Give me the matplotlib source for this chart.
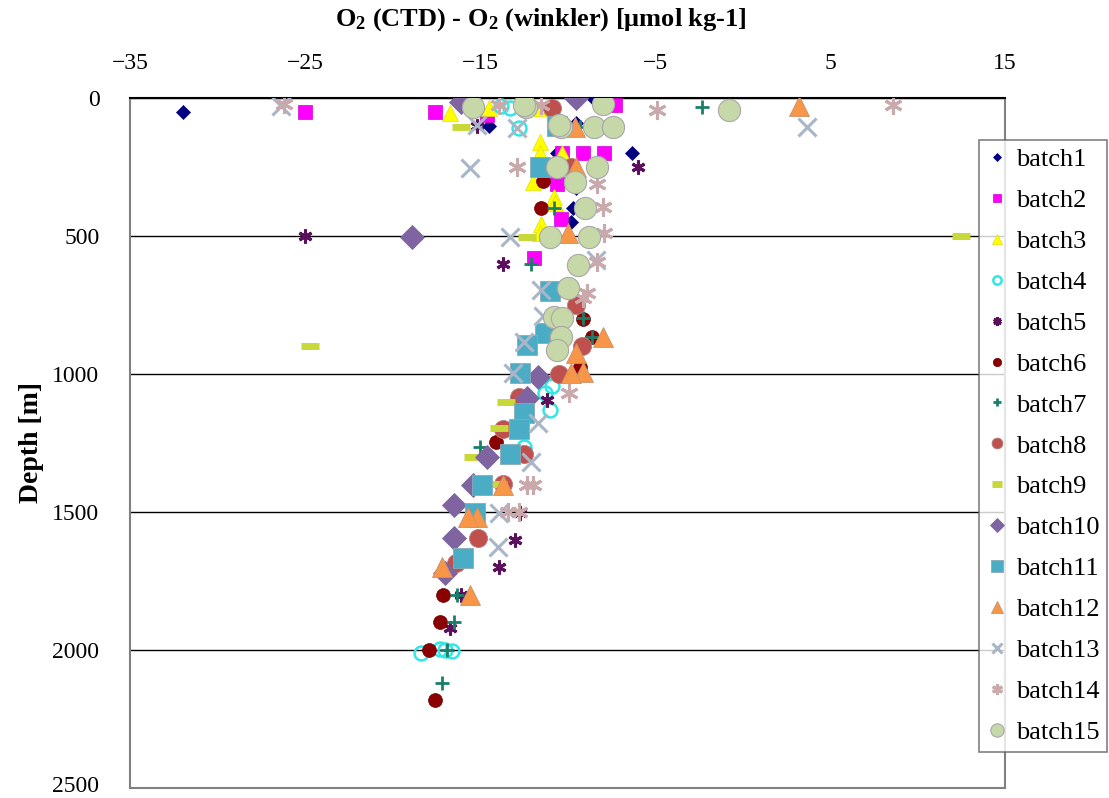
import matplotlib
matplotlib.use("Agg")
import matplotlib.pyplot as plt
from matplotlib.transforms import ScaledTranslation

plt.rcParams['font.family'] = ['Liberation Serif', 'DejaVu Serif']
plt.rcParams['mathtext.fontset'] = 'custom'
plt.rcParams['mathtext.rm'] = 'Liberation Serif'
plt.rcParams['mathtext.bf'] = 'Liberation Serif:bold'
plt.rcParams['mathtext.default'] = 'bf'

# O2 (CTD) - O2 (winkler) difference [umol/kg] and depth [m] per batch
b1_x = [-32.0, -14.5, -9.5, -8.5, -10.6, -6.3, -9.5, -9.7, -9.8]
b1_z = [50, 100, 90, 5, 200, 200, 325, 400, 450]
b2_x = [-25.0, -17.6, -7.3, -14.6, -10.3, -9.1, -7.9, -10.6, -10.4, -11.9, -12.3]
b2_z = [50, 50, 25, 60, 200, 200, 200, 310, 440, 580, 30]
b3_x = [-16.7, -14.5, -11.6, -11.6, -11.6, -10.3, -12.0, -10.8, -10.7, -11.5, -11.6]
b3_z = [55, 35, 37, 160, 200, 200, 305, 360, 380, 455, 490]
b4_x = [-13.3, -12.8, -13.8, -11.3, -10.9, -11.0, -12.5, -18.4, -17.0, -16.6, -17.3]
b4_z = [37, 110, 30, 1070, 1045, 1130, 1265, 2010, 2000, 2005, 1995]
b5_x = [-25.0, -15.2, -6.0, -13.7, -11.2, -12.7, -13.0, -13.9, -16.1, -16.7]
b5_z = [500, 100, 250, 600, 1095, 1505, 1600, 1700, 1800, 1920]
b6_x = [-11.4, -11.5, -9.1, -8.6, -9.3, -14.1, -17.1, -17.3, -17.9, -17.6]
b6_z = [300, 400, 800, 865, 975, 1245, 1800, 1900, 2000, 2180]
b7_x = [-2.3, -9.3, -10.8, -12.1, -9.1, -8.6, -15.0, -16.3, -16.5, -16.9, -17.2]
b7_z = [32, 105, 400, 600, 797, 866, 1263, 1800, 1900, 2000, 2120]
b8_x = [-10.9, -9.8, -9.5, -9.2, -10.5, -12.8, -13.7, -12.5, -13.7, -15.1, -16.4]
b8_z = [37, 250, 750, 900, 1000, 1085, 1200, 1290, 1400, 1595, 1685]
b9_x = [-16.1, 12.5, -24.7, -12.3, -13.5, -13.9, -15.4, -14.0]
b9_z = [105, 500, 900, 503, 1100, 1195, 1300, 1400]
b10_x = [-16.1, -9.5, -18.9, -11.7, -12.3, -14.6, -15.4, -16.5, -16.5, -17.0]
b10_z = [15, 0, 503, 1010, 1087, 1300, 1402, 1475, 1595, 1720]
b11_x = [-10.6, -11.6, -11.0, -11.3, -12.3, -12.7, -12.5, -12.8, -13.3, -14.9, -15.3, -16.0]
b11_z = [100, 250, 700, 850, 895, 997, 1140, 1200, 1290, 1402, 1505, 1665]
b12_x = [3.2, -9.6, -9.5, -10.0, -8.0, -9.5, -9.1, -9.8, -13.7, -15.2, -15.7, -17.2, -15.6]
b12_z = [30, 105, 250, 490, 866, 925, 993, 997, 1402, 1518, 1518, 1700, 1800]
b13_x = [-26.4, -15.2, -12.9, 3.7, -15.6, -13.3, -8.4, -11.5, -11.4, -12.5, -13.1,
         -11.7, -12.1, -13.9, -14.0]
b13_z = [30, 98, 110, 105, 255, 503, 587, 695, 790, 885, 997,
         1178, 1318, 1505, 1625]
b14_x = [-26.2, 8.6, -4.9, -13.9, -11.5, -12.9, -8.3, -8.0, -7.9, -8.3, -8.9, -9.1,
         -9.9, -12.0, -12.3, -13.4, -12.8]
b14_z = [20, 25, 43, 25, 25, 250, 310, 395, 490, 593, 707, 725,
         1070, 1402, 1402, 1500, 1500]
b15_x = [-0.8, -8.0, -12.4, -15.4, -12.5, -10.4, -8.5, -7.4, -10.5, -10.6, -8.3, -9.6,
         -9.0, -8.8, -11.0, -9.4, -10.0, -10.8, -10.3, -10.4, -10.6]
b15_z = [45, 20, 32, 32, 25, 105, 105, 105, 98, 250, 250, 305,
         400, 503, 503, 605, 690, 793, 797, 866, 913]

labels = ['batch%d' % i for i in range(1, 16)]
xs = [b1_x, b2_x, b3_x, b4_x, b5_x, b6_x, b7_x, b8_x, b9_x, b10_x, b11_x, b12_x, b13_x, b14_x, b15_x]
zs = [b1_z, b2_z, b3_z, b4_z, b5_z, b6_z, b7_z, b8_z, b9_z, b10_z, b11_z, b12_z, b13_z, b14_z, b15_z]

# marker, size, face, edge, edge width
styles = [
    ('D', 7, '#000080', '#000080', 0.5),
    ('s', 10, '#FF00FF', '#D000D0', 0.5),
    ('^', 11, '#FFFF00', '#E0E000', 0.5),
    ('o', 10, 'none', '#33E6E6', 1.8),
    ((6, 2, 0), 10, '#5C0F5C', '#5C0F5C', 2.2),
    ('o', 10, '#8B0000', '#6A0000', 0.5),
    ('+', 10, '#1A7F6A', '#1A7F6A', 2.0),
    ('o', 13, '#C0504D', '#B08080', 0.6),
    ('_', 13, '#C8D838', '#C8D838', 5.0),
    ('D', 12, '#8064A2', '#7A6A9A', 0.6),
    ('s', 14, '#4BACC6', '#8AAAB8', 0.6),
    ('^', 15, '#F79646', '#C89070', 0.6),
    ('x', 13, '#A9B6C8', '#A9B6C8', 2.2),
    ((6, 2, 0), 13, '#C9A9AB', '#C9A9AB', 2.2),
    ('o', 16, '#C6D7A8', '#A8A8A8', 0.8),
]

fig = plt.figure(figsize=(11.09, 7.98), dpi=100)
ax = fig.add_axes([130 / 1109, 1 - 788 / 798, 875 / 1109, 690 / 798])

for i in range(15):
    m, ms, fc, ec, ew = styles[i]
    ax.plot(xs[i], zs[i], linestyle='none', marker=m, markersize=ms,
            markerfacecolor=fc, markeredgecolor=ec, markeredgewidth=ew,
            label=labels[i], zorder=3 + i)

ax.set_xlim(-35, 15)
ax.set_ylim(2500, 0)
ax.set_xticks([-35, -25, -15, -5, 5, 15])
ax.set_yticks([0, 500, 1000, 1500, 2000, 2500])
ax.xaxis.tick_top()
ax.tick_params(axis='x', length=0, pad=17, labelsize=17)
ax.tick_params(axis='y', length=0, pad=22, labelsize=17)
ax.grid(axis='y', color='black', linewidth=1.0)
ax.grid(axis='x', visible=False)
ax.set_axisbelow(True)
for side in ['left', 'right', 'bottom']:
    ax.spines[side].set_color('#808080')
    ax.spines[side].set_linewidth(1.5)
ax.spines['top'].set_color('black')
ax.spines['top'].set_linewidth(1.5)

# keep the bottom tick label inside the canvas
last = ax.get_yticklabels()[-1]
last.set_transform(last.get_transform() + ScaledTranslation(0, 3 / 72, fig.dpi_scale_trans))

ax.set_ylabel('Depth [m]', fontsize=20, fontweight='bold', labelpad=6)
fig.text(541 / 1109, 1 - 20 / 798, r'O$_2$ (CTD) - O$_2$ (winkler) [μmol kg-1]',
         ha='center', va='center', fontsize=19, fontweight='bold')

leg = fig.legend(loc='upper left', bbox_to_anchor=(979 / 1109, 1 - 140 / 798),
                 fontsize=19, frameon=True, fancybox=False, borderaxespad=0,
                 handlelength=0.8, handletextpad=0.3, labelspacing=0.66,
                 borderpad=0.3, markerscale=0.6)
leg.get_frame().set_edgecolor('#606060')
leg.get_frame().set_linewidth(1.2)

fig.savefig('out.png', dpi=100)
